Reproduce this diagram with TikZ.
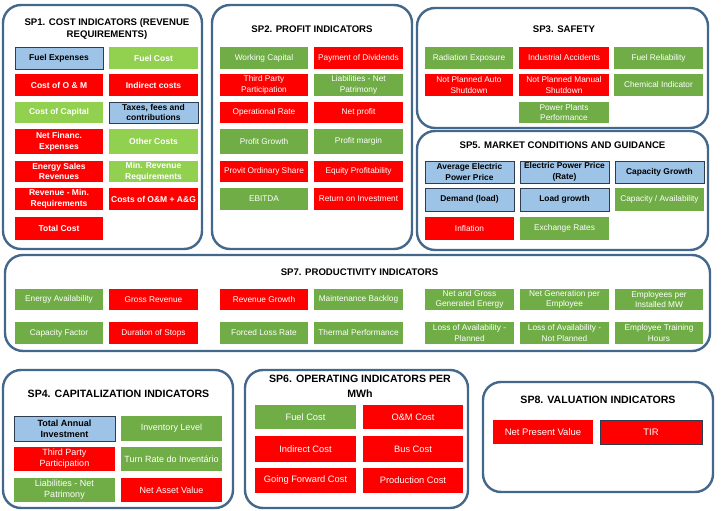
\documentclass[tikz,border=0pt]{standalone}
\usepackage{fontspec}
\setmainfont{Liberation Sans}
\definecolor{panelc}{RGB}{68,104,140}
\definecolor{cred}{RGB}{255,0,0}
\definecolor{cgrn}{RGB}{112,173,71}
\definecolor{clgrn}{RGB}{146,208,80}
\definecolor{cblu}{RGB}{157,195,230}
\definecolor{cblubd}{RGB}{45,60,80}
\newcommand\cellbox[7]{\node[cell,#6,minimum width={(#4)-(#2)},minimum height={(#5)-(#3)}] (#1) at ({((#2)+(#4))/2},{((#3)+(#5))/2}) {#7};}
\tikzset{
  panel/.style={draw=panelc,line width=2.4pt,rounded corners=18pt,fill=white},
  cell/.style={inner sep=0pt,outer sep=0pt,align=center,text=white},
  rd/.style={fill=cred},
  gn/.style={fill=cgrn},
  lg/.style={fill=clgrn},
  bl/.style={fill=cblu,draw=cblubd,line width=0.8pt,text=black},
  fa/.style={font=\bfseries\fontsize{8.5}{10.7}\selectfont},
  fb/.style={font=\fontsize{8.3}{10.5}\selectfont},
  fbb/.style={font=\bfseries\fontsize{8.4}{10.5}\selectfont},
  fc/.style={font=\fontsize{9}{11.2}\selectfont},
  fcb/.style={font=\bfseries\fontsize{9}{11.2}\selectfont},
  fd/.style={font=\fontsize{9.3}{11.5}\selectfont},
  fe/.style={font=\fontsize{9.5}{11.5}\selectfont},
  ttl/.style={font=\bfseries\fontsize{9.6}{11.7}\selectfont,align=center,inner sep=0pt},
  ttlb/.style={font=\bfseries\fontsize{10.6}{14.8}\selectfont,align=center,inner sep=0pt},
}
\begin{document}
\begin{tikzpicture}[x=1pt,y=-1pt]
\useasboundingbox[fill=white] (0,0) rectangle (723,511);
% panels
\draw[panel] (3,5) rectangle (202,249);
\draw[panel] (212,5) rectangle (412,249);
\draw[panel] (417,8) rectangle (708,128);
\draw[panel] (417,131) rectangle (708,250);
\draw[panel] (5,255) rectangle (710,351);
\draw[panel] (3,370) rectangle (233,508);
\draw[panel] (245,370) rectangle (468,508);
\draw[panel] (483,382) rectangle (713,492);
% titles
\node[ttl] (t1) at (107,29) {SP1. COST INDICATORS (REVENUE\\REQUIREMENTS)};
\node[ttl] (t2) at (312,29) {SP2. PROFIT INDICATORS};
\node[ttl] (t3) at (564,29) {SP3. SAFETY};
\node[ttl] (t5) at (562.5,145) {SP5. MARKET CONDITIONS AND GUIDANCE};
\node[ttl] (t7) at (359.5,272) {SP7. PRODUCTIVITY INDICATORS};
\node[ttlb] (t4) at (118.5,394) {SP4. CAPITALIZATION INDICATORS};
\node[ttlb] (t6) at (360,386.5) {SP6. OPERATING INDICATORS PER\\MWh};
\node[ttlb] (t8) at (598,400) {SP8. VALUATION INDICATORS};
% SP1
\cellbox{a11}{15}{47}{103}{69}{bl,fa}{Fuel Expenses}
\cellbox{a12}{109}{47}{198}{69}{lg,fa}{Fuel Cost}
\cellbox{a21}{15}{74}{103}{96}{rd,fa}{Cost of O \& M}
\cellbox{a22}{109}{74}{198}{96}{rd,fa}{Indirect costs}
\cellbox{a31}{15}{102}{103}{123}{lg,fa}{Cost of Capital}
\cellbox{a32}{109}{102}{198}{123}{bl,fa}{Taxes, fees and\\contributions}
\cellbox{a41}{15}{129}{103}{154}{rd,fa}{Net Financ.\\Expenses}
\cellbox{a42}{109}{129}{198}{154}{lg,fa}{Other Costs}
\cellbox{a51}{15}{161}{103}{182}{rd,fa}{Energy Sales\\Revenues}
\cellbox{a52}{109}{161}{198}{182}{lg,fa}{Min. Revenue\\Requirements}
\cellbox{a61}{15}{188}{103}{210}{rd,fa}{Revenue - Min.\\Requirements}
\cellbox{a62}{109}{188}{198}{210}{rd,fa}{Costs of O\&M + A\&G}
\cellbox{a71}{15}{217}{103}{240}{rd,fa}{Total Cost}
% SP2
\cellbox{b11}{220}{47}{308}{69}{gn,fb}{Working Capital}
\cellbox{b12}{314}{47}{403}{69}{rd,fb}{Payment of Dividends}
\cellbox{b21}{220}{74}{308}{96}{rd,fb}{Third Party\\Participation}
\cellbox{b22}{314}{74}{403}{96}{gn,fb}{Liabilities - Net\\Patrimony}
\cellbox{b31}{220}{102}{308}{123}{rd,fb}{Operational Rate}
\cellbox{b32}{314}{102}{403}{123}{rd,fb}{Net profit}
\cellbox{b41}{220}{129}{308}{154}{gn,fb}{Profit Growth}
\cellbox{b42}{314}{129}{403}{154}{gn,fb}{Profit margin}
\cellbox{b51}{220}{161}{308}{182}{rd,fb}{Provit Ordinary Share}
\cellbox{b52}{314}{161}{403}{182}{rd,fb}{Equity Profitability}
\cellbox{b61}{220}{188}{308}{210}{gn,fb}{EBITDA}
\cellbox{b62}{314}{188}{403}{210}{rd,fb}{Return on Investment}
% SP3
\cellbox{c11}{425}{47}{513}{69}{gn,fb}{Radiation Exposure}
\cellbox{c12}{519}{47}{609}{69}{rd,fb}{Industrial Accidents}
\cellbox{c13}{614}{47}{703}{69}{gn,fb}{Fuel Reliability}
\cellbox{c21}{425}{74}{513}{96}{rd,fb}{Not Planned Auto\\Shutdown}
\cellbox{c22}{519}{74}{609}{96}{rd,fb}{Not Planned Manual\\Shutdown}
\cellbox{c23}{614}{74}{703}{96}{gn,fb}{Chemical Indicator}
\cellbox{c32}{519}{102}{609}{123}{gn,fb}{Power Plants\\Performance}
% SP5
\cellbox{e11}{425}{161}{514}{183}{bl,fbb}{Average Electric\\Power Price}
\cellbox{e12}{520}{161}{609}{183}{bl,fbb}{Electric Power Price\\(Rate)}
\cellbox{e13}{615}{161}{704}{183}{bl,fbb}{Capacity Growth}
\cellbox{e21}{425}{188}{514}{211}{bl,fbb}{Demand (load)}
\cellbox{e22}{520}{188}{609}{211}{bl,fbb}{Load growth}
\cellbox{e23}{615}{188}{704}{211}{gn,fb}{Capacity / Availability}
\cellbox{e31}{425}{217}{514}{240}{rd,fb}{Inflation}
\cellbox{e32}{520}{217}{609}{240}{gn,fb}{Exchange Rates}
% SP7
\cellbox{g11}{15}{289}{103}{310}{gn,fb}{Energy Availability}
\cellbox{g12}{109}{289}{198}{310}{rd,fb}{Gross Revenue}
\cellbox{g13}{220}{289}{308}{310}{rd,fb}{Revenue Growth}
\cellbox{g14}{314}{289}{403}{310}{gn,fb}{Maintenance Backlog}
\cellbox{g15}{425}{289}{514}{310}{gn,fb}{Net and Gross\\Generated Energy}
\cellbox{g16}{520}{289}{609}{310}{gn,fb}{Net Generation per\\Employee}
\cellbox{g17}{615}{289}{703}{310}{gn,fb}{Employees per\\Installed MW}
\cellbox{g21}{15}{322}{103}{344}{gn,fb}{Capacity Factor}
\cellbox{g22}{109}{322}{198}{344}{rd,fb}{Duration of Stops}
\cellbox{g23}{220}{322}{308}{344}{gn,fb}{Forced Loss Rate}
\cellbox{g24}{314}{322}{403}{344}{gn,fb}{Thermal Performance}
\cellbox{g25}{425}{322}{514}{344}{gn,fb}{Loss of Availability -\\Planned}
\cellbox{g26}{520}{322}{609}{344}{gn,fb}{Loss of Availability -\\Not Planned}
\cellbox{g27}{615}{322}{703}{344}{gn,fb}{Employee Training\\Hours}
% SP4
\cellbox{d11}{14}{416}{115}{441}{bl,fcb}{Total Annual\\Investment}
\cellbox{d12}{121}{416}{222}{441}{gn,fc}{Inventory Level}
\cellbox{d21}{14}{447}{115}{471}{rd,fc}{Third Party\\Participation}
\cellbox{d22}{121}{447}{222}{471}{gn,fc}{Turn Rate do Inventário}
\cellbox{d31}{14}{478}{115}{502}{gn,fc}{Liabilities - Net\\Patrimony}
\cellbox{d32}{121}{478}{222}{502}{rd,fc}{Net Asset Value}
% SP6
\cellbox{f11}{255}{405}{356}{429}{gn,fd}{Fuel Cost}
\cellbox{f12}{363}{405}{463}{429}{rd,fd}{O\&M Cost}
\cellbox{f21}{255}{436}{356}{462}{rd,fd}{Indirect Cost}
\cellbox{f22}{363}{436}{463}{462}{rd,fd}{Bus Cost}
\cellbox{f31}{255}{468}{356}{493}{rd,fd}{Going Forward Cost}
\cellbox{f32}{363}{468}{463}{493}{rd,fd}{Production Cost}
% SP8
\cellbox{h11}{493}{420}{593}{444}{rd,fe}{Net Present Value}
\cellbox{h12}{600}{420}{702}{444}{rd,fe,draw=cblubd,line width=0.8pt}{TIR}
\end{tikzpicture}
\end{document}
